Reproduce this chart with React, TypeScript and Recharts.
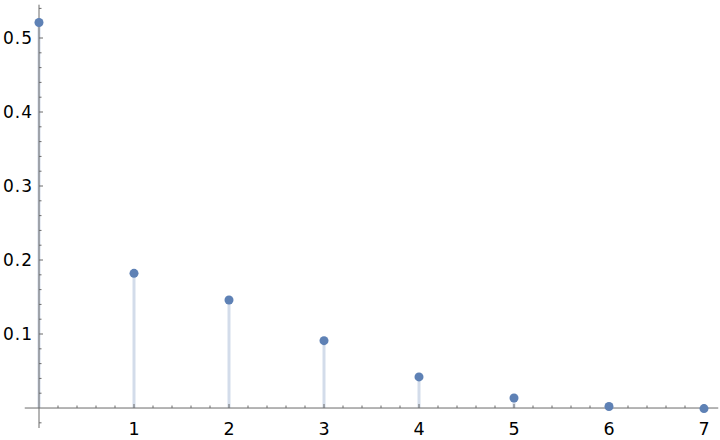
import React from "react";
import {
  ComposedChart,
  Bar,
  Scatter,
  XAxis,
  YAxis,
  ReferenceLine,
} from "recharts";

// values
const ks = [0, 1, 2, 3, 4, 5, 6, 7];
const probs = [0.521, 0.182, 0.146, 0.091, 0.042, 0.0135, 0.002, -0.0008];

const xMajorTicks = [1, 2, 3, 4, 5, 6, 7];
const xMinorTicks = [
  0.2, 0.4, 0.6, 0.8, 1.2, 1.4, 1.6, 1.8, 2.2, 2.4, 2.6, 2.8, 3.2, 3.4, 3.6, 3.8,
  4.2, 4.4, 4.6, 4.8, 5.2, 5.4, 5.6, 5.8, 6.2, 6.4, 6.6, 6.8,
];
const yMajorTicks = [0.1, 0.2, 0.3, 0.4, 0.5];
const yMinorTicks = [
  -0.02, 0.02, 0.04, 0.06, 0.08, 0.12, 0.14, 0.16, 0.18, 0.22, 0.24, 0.26, 0.28,
  0.32, 0.34, 0.36, 0.38, 0.42, 0.44, 0.46, 0.48, 0.52, 0.54,
];

const points = ks.map((k, i) => ({ x: k, y: probs[i] }));
const xTickData = [
  ...xMajorTicks.map((v) => ({ x: v, y: 0, major: true, label: String(v) })),
  ...xMinorTicks.map((v) => ({ x: v, y: 0, major: false, label: "" })),
];
const yTickData = [
  ...yMajorTicks.map((v) => ({ x: 0, y: v, major: true, label: String(v) })),
  ...yMinorTicks.map((v) => ({ x: 0, y: v, major: false, label: "" })),
];

const AXIS = "#6b6b6b";
const DOT = "#5e81b5";
const STEM = "#d3dcea";
const FONT = "'DejaVu Sans', sans-serif";

const XTick = (props: any) => {
  const { cx, cy, payload } = props;
  const len = payload.major ? 4 : 2.5;
  return (
    <g>
      <line x1={cx} x2={cx} y1={cy} y2={cy - len} stroke={AXIS} strokeWidth={1} />
      {payload.label && (
        <text x={cx} y={cy + 27} textAnchor="middle" fontSize={17.5} fontFamily={FONT} fill="#000">
          {payload.label}
        </text>
      )}
    </g>
  );
};

const YTick = (props: any) => {
  const { cx, cy, payload } = props;
  const len = payload.major ? 4 : 2.5;
  return (
    <g>
      <line x1={cx} x2={cx + len} y1={cy} y2={cy} stroke={AXIS} strokeWidth={1} />
      {payload.label && (
        <text
          x={cx - 6}
          y={cy + 6.2}
          textAnchor="end"
          fontSize={17}
          letterSpacing={1}
          fontFamily={FONT}
          fill="#000"
        >
          {payload.label}
        </text>
      )}
    </g>
  );
};

const Dot = (props: any) => <circle cx={props.cx} cy={props.cy} r={4.5} fill={DOT} />;

export default function App() {
  return (
    <div style={{ position: "absolute", left: 0, top: 0, width: 720, height: 440, background: "#fff" }}>
      <ComposedChart
        width={720}
        height={440}
        data={points}
        margin={{ top: 4.7, right: 1.75, bottom: 12, left: 24.75 }}
      >
        <XAxis type="number" dataKey="x" domain={[-0.15, 7.15]} hide />
        <YAxis type="number" dataKey="y" domain={[-0.027, 0.545]} hide />
        <Bar dataKey="y" barSize={3} fill={STEM} isAnimationActive={false} />
        <ReferenceLine y={0} stroke={AXIS} strokeWidth={1} />
        <ReferenceLine x={0} stroke={AXIS} strokeWidth={1} />
        <Scatter data={xTickData} dataKey="y" shape={XTick} isAnimationActive={false} />
        <Scatter data={yTickData} dataKey="y" shape={YTick} isAnimationActive={false} />
        <Scatter data={points} dataKey="y" shape={Dot} isAnimationActive={false} />
      </ComposedChart>
    </div>
  );
}
